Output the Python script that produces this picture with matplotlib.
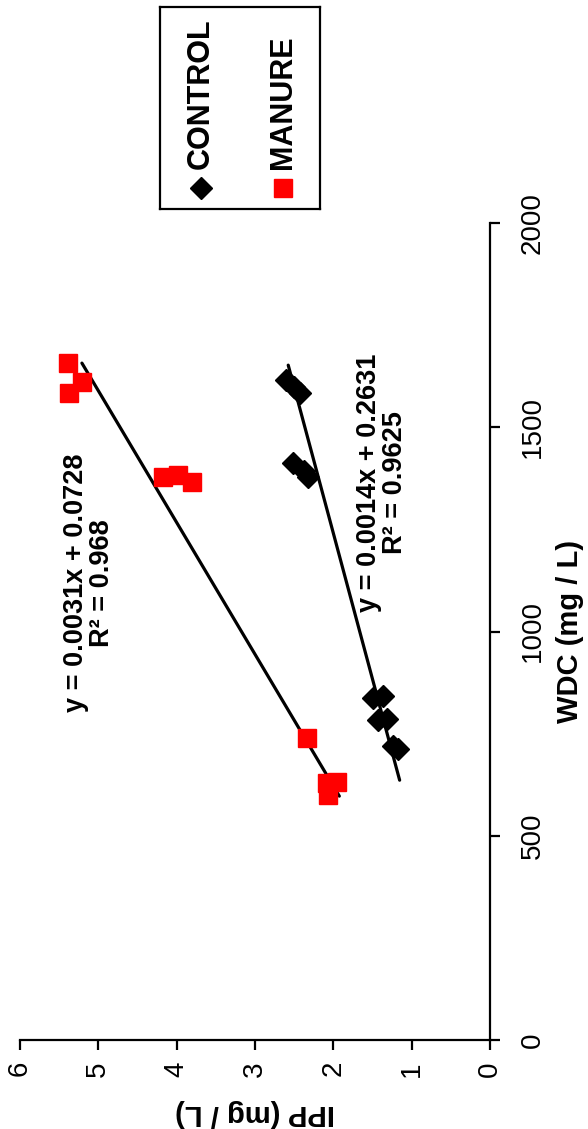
import matplotlib
matplotlib.use("Agg")
import matplotlib.pyplot as plt
import numpy as np

plt.rcParams['font.family'] = ['Liberation Sans', 'DejaVu Sans']

# WDC (mg/L) and IPP (mg/L) measurements
control_wdc = [1616, 1598, 1584, 1412, 1392, 1378, 838, 842, 783, 786, 712, 720]
control_ipp = [2.60, 2.50, 2.43, 2.52, 2.38, 2.32, 1.49, 1.37, 1.43, 1.31, 1.17, 1.24]

manure_wdc = [1657, 1611, 1584, 1378, 1383, 1366, 739, 629, 632, 600]
manure_ipp = [5.39, 5.21, 5.37, 4.17, 3.98, 3.80, 2.34, 2.08, 1.95, 2.07]

# Linear trend lines: IPP = slope * WDC + intercept
control_fit = (0.0014, 0.2631, 0.9625)
manure_fit = (0.0031, 0.0728, 0.968)
control_span = (636, 1652)
manure_span = (597, 1657)

wdc_ticks = [0, 500, 1000, 1500, 2000]
ipp_ticks = [0, 1, 2, 3, 4, 5, 6]

W, H = 588, 1129
fig = plt.figure(figsize=(W / 100, H / 100), dpi=100)
fig.patch.set_facecolor('white')

# Axes drawn turned a quarter turn: IPP runs along the bottom (right to left),
# WDC runs up the right-hand side.
ax = fig.add_axes([20 / W, 1 - 1040 / H, 470 / W, 817 / H])
ax.set_xlim(6, 0)
ax.set_ylim(0, 2000)

for s in ('top', 'left'):
    ax.spines[s].set_visible(False)
for s in ('bottom', 'right'):
    ax.spines[s].set_linewidth(1.6)
    ax.spines[s].set_color('black')

ax.yaxis.tick_right()
ax.set_xticks(ipp_ticks)
ax.set_xticklabels([str(t) for t in ipp_ticks], rotation=90, fontsize=20,
                   ha='center', va='top')
ax.set_yticks(wdc_ticks)
ax.set_yticklabels([str(t) for t in wdc_ticks], rotation=90, fontsize=20,
                   ha='left', va='center')
ax.tick_params(axis='x', direction='out', length=7.2, width=1.6, pad=8)
ax.tick_params(axis='y', direction='out', length=7.2, width=1.6, pad=14)

ax.set_xlabel('IPP (mg / L)', rotation=180, fontsize=21, fontweight='bold',
              va='center', ha='center')
ax.xaxis.set_label_coords(0.5, -(1113 - 1040) / 817)
ax.yaxis.set_label_position('right')
ax.set_ylabel('WDC (mg / L)', rotation=90, fontsize=21, fontweight='bold',
              va='center', ha='center')
ax.yaxis.set_label_coords((570 - 20) / 470, 0.5)

# Trend lines
for (slope, icpt, _), (lo, hi) in ((control_fit, control_span), (manure_fit, manure_span)):
    w = np.array([lo, hi], dtype=float)
    ax.plot(slope * w + icpt, w, color='black', lw=2.3, solid_capstyle='round', zorder=2)

ax.plot(control_ipp, control_wdc, linestyle='none', marker='D', ms=11,
        color='black', mec='black', zorder=3, clip_on=False)
ax.plot(manure_ipp, manure_wdc, linestyle='none', marker='s', ms=13,
        color='red', mec='red', zorder=3, clip_on=False)


def eq_text(fit):
    slope, icpt, r2 = fit
    return f"y = {slope:.4f}x + {icpt:.4f}\nR\u00b2 = {r2:g}"


fig.text(89 / W, 1 - 583 / H, eq_text(manure_fit), rotation=90, fontsize=19.5,
         fontweight='bold', ha='center', va='center', multialignment='center',
         linespacing=1.0)
fig.text(382 / W, 1 - 483 / H, eq_text(control_fit), rotation=90, fontsize=19.5,
         fontweight='bold', ha='center', va='center', multialignment='center',
         linespacing=1.0)

# Legend box
lg = fig.add_axes([160 / W, 1 - 209 / H, 160 / W, 202 / H])
lg.set_xlim(0, 1)
lg.set_ylim(0, 1)
lg.set_xticks([])
lg.set_yticks([])
for s in lg.spines.values():
    s.set_linewidth(1.6)
    s.set_color('black')
lg.plot([0.256], [0.104], marker='D', ms=11, color='black', linestyle='none')
lg.plot([0.769], [0.104], marker='s', ms=13, color='red', mec='red', linestyle='none')
lg.text(0.256, 0.20, 'CONTROL', rotation=90, fontsize=22, fontweight='bold',
        ha='center', va='bottom')
lg.text(0.769, 0.20, 'MANURE', rotation=90, fontsize=22, fontweight='bold',
        ha='center', va='bottom')

fig.savefig('out.png', dpi=100, facecolor='white')
